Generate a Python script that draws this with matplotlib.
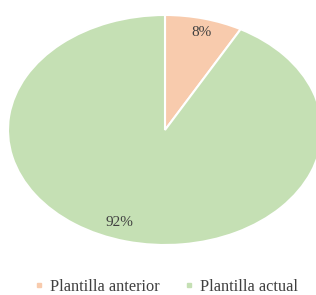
import matplotlib
matplotlib.use("Agg")
import matplotlib.pyplot as plt
from matplotlib.lines import Line2D

labels = ["Plantilla anterior", "Plantilla actual"]
values = [8, 92]
colors = ["#F8CBAD", "#C5E0B4"]

plt.rcParams['font.family'] = ['Liberation Serif', 'DejaVu Serif']

fig = plt.figure(figsize=(3.16, 2.95), dpi=100)
ax = fig.add_axes([8/316, 50/295, 314/316, 230/295])
wedges, texts, autotexts = ax.pie(values, colors=colors, startangle=90, counterclock=False,
                                  autopct=lambda p: f"{p:.0f}%", pctdistance=0.88,
                                  wedgeprops=dict(edgecolor='white', linewidth=1.5),
                                  textprops=dict(color='#404040', fontsize=11))
autotexts[0].set_position((0.23, 0.85))
autotexts[1].set_position((-0.29, -0.80))
ax.set_aspect('auto')
ax.set_xlim(-1, 1)
ax.set_ylim(-1, 1)
for w in wedges:
    w.set_clip_on(False)

handles = [Line2D([], [], marker='s', linestyle='none', markersize=3.5,
                  markerfacecolor=c, markeredgecolor=c) for c in colors]
leg = fig.legend(handles, labels, loc='lower center', bbox_to_anchor=(0.525, 0.0), ncol=2,
                 frameon=False, handlelength=0.6, handletextpad=0.35, columnspacing=1.5,
                 prop=dict(size=11.8), labelcolor='#404040', borderpad=0.0,
                 borderaxespad=0.0)

fig.savefig("out.png", dpi=100)
